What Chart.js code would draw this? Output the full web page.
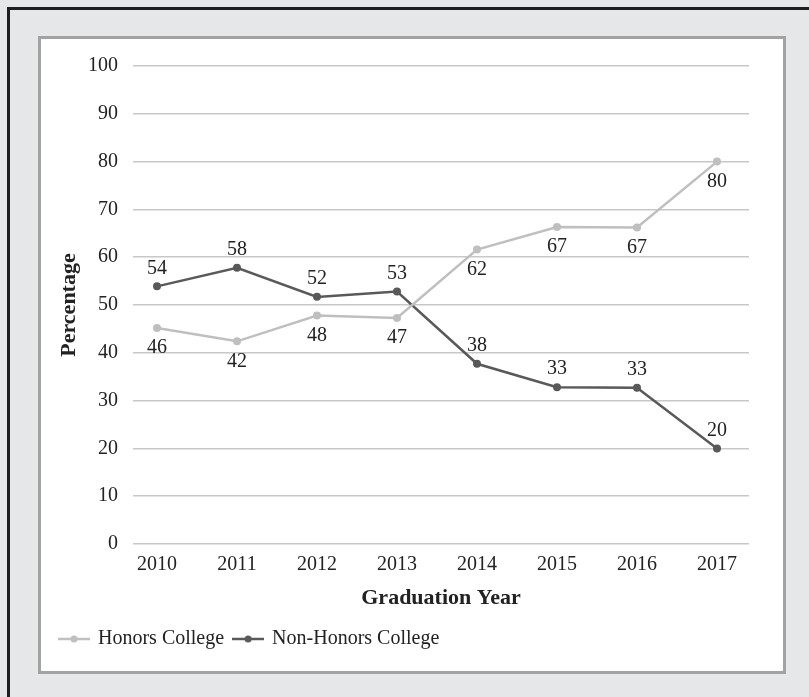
<!DOCTYPE html>
<html>
<head>
<meta charset="utf-8">
<script src="https://cdn.jsdelivr.net/npm/chart.js@4"></script>
<style>
    html, body { margin: 0; padding: 0; }
    body {
        width: 809px;
        height: 697px;
        background: #e6e7e9;
        position: relative;
        overflow: hidden;
    }
    .outer-frame {
        position: absolute;
        left: 7px;
        top: 7px;
        width: 900px;
        height: 800px;
        border-left: 3px solid #1e1e1e;
        border-top: 3px solid #1e1e1e;
    }
    .panel {
        position: absolute;
        left: 38px;
        top: 36px;
        width: 742px;
        height: 632px;
        background: #fff;
        border: 3px solid #a2a2a2;
    }
    .panel canvas { display: block; }
</style>
</head>
<body>
<div class="outer-frame"></div>
<div class="panel">
    <canvas id="chart" width="742" height="632"></canvas>
</div>
<script>
// Chart data
const years = [2010, 2011, 2012, 2013, 2014, 2015, 2016, 2017];
const honorsValues = [45.2, 42.4, 47.8, 47.3, 61.6, 66.3, 66.2, 80.0];
const honorsLabels = ['46', '42', '48', '47', '62', '67', '67', '80'];
const nonHonorsValues = [53.9, 57.8, 51.7, 52.8, 37.7, 32.8, 32.7, 20.0];
const nonHonorsLabels = ['54', '58', '52', '53', '38', '33', '33', '20'];
const yTicks = [0, 10, 20, 30, 40, 50, 60, 70, 80, 90, 100];

const HONORS_COLOR = '#bfbfbf';
const NON_HONORS_COLOR = '#595959';
const TEXT_COLOR = '#222222';
const FONT_FAMILY = '"Liberation Serif", "DejaVu Serif", serif';

/**
 * Small line-with-dot icon used as the legend marker
 */
function makeLegendIcon(color) {
    const c = document.createElement('canvas');
    c.width = 32;
    c.height = 10;
    const g = c.getContext('2d');
    g.strokeStyle = color;
    g.lineWidth = 2.5;
    g.beginPath();
    g.moveTo(0, 5);
    g.lineTo(32, 5);
    g.stroke();
    g.fillStyle = color;
    g.beginPath();
    g.arc(16, 5, 3.5, 0, Math.PI * 2);
    g.fill();
    return c;
}

const legendIcons = [makeLegendIcon(HONORS_COLOR), makeLegendIcon(NON_HONORS_COLOR)];

// Draws the value text above / below each point
const pointLabels = {
    id: 'pointLabels',
    afterDatasetsDraw(chart) {
        const ctx = chart.ctx;
        ctx.save();
        ctx.font = '20px ' + FONT_FAMILY;
        ctx.fillStyle = TEXT_COLOR;
        ctx.textAlign = 'center';
        ctx.textBaseline = 'middle';
        chart.data.datasets.forEach((ds, i) => {
            const meta = chart.getDatasetMeta(i);
            meta.data.forEach((pt, j) => {
                ctx.fillText(ds.valueLabels[j], pt.x, pt.y + ds.labelOffset);
            });
        });
        ctx.restore();
    }
};

const toPoints = values => years.map((year, i) => ({ x: year, y: values[i] }));

new Chart(document.getElementById('chart'), {
    type: 'line',
    data: {
        datasets: [{
            label: 'Honors College',
            data: toPoints(honorsValues),
            valueLabels: honorsLabels,
            labelOffset: 20,
            borderColor: HONORS_COLOR,
            backgroundColor: HONORS_COLOR,
            borderWidth: 2.5,
            pointRadius: 4,
            pointBackgroundColor: HONORS_COLOR,
            pointBorderWidth: 0,
            tension: 0
        }, {
            label: 'Non-Honors College',
            data: toPoints(nonHonorsValues),
            valueLabels: nonHonorsLabels,
            labelOffset: -18,
            borderColor: NON_HONORS_COLOR,
            backgroundColor: NON_HONORS_COLOR,
            borderWidth: 2.5,
            pointRadius: 4,
            pointBackgroundColor: NON_HONORS_COLOR,
            pointBorderWidth: 0,
            tension: 0
        }]
    },
    options: {
        responsive: false,
        animation: false,
        layout: {
            padding: { left: 9, right: 34, top: 26, bottom: 12 }
        },
        plugins: {
            tooltip: { enabled: false },
            legend: {
                display: true,
                position: 'bottom',
                align: 'start',
                labels: {
                    usePointStyle: true,
                    pointStyleWidth: 28,
                    padding: 10,
                    color: TEXT_COLOR,
                    font: { family: FONT_FAMILY, size: 20 },
                    generateLabels: function(chart) {
                        const items = Chart.defaults.plugins.legend.labels.generateLabels(chart);
                        return items.map((item, i) => Object.assign(item, { pointStyle: legendIcons[i] }));
                    }
                }
            }
        },
        scales: {
            x: {
                type: 'linear',
                min: 2009.7,
                max: 2017.4,
                afterBuildTicks: function(axis) {
                    axis.ticks = years.map(v => ({ value: v }));
                },
                afterFit: function(scale) {
                    scale.height = 75;
                },
                grid: { display: false, drawTicks: false },
                border: { display: false },
                ticks: {
                    autoSkip: false,
                    maxRotation: 0,
                    padding: 9,
                    color: TEXT_COLOR,
                    font: { family: FONT_FAMILY, size: 20 },
                    callback: function(value) {
                        return String(value);
                    }
                },
                title: {
                    display: true,
                    text: 'Graduation Year',
                    color: TEXT_COLOR,
                    font: { family: FONT_FAMILY, size: 22, weight: 'bold' },
                    padding: { top: 0, bottom: 7 }
                }
            },
            y: {
                min: 0,
                max: 100,
                afterBuildTicks: function(axis) {
                    axis.ticks = yTicks.map(v => ({ value: v }));
                },
                afterFit: function(scale) {
                    scale.width = 83;
                },
                grid: {
                    color: '#c8c8c8',
                    lineWidth: 1.5,
                    drawTicks: false
                },
                border: { display: false },
                ticks: {
                    padding: 15,
                    color: TEXT_COLOR,
                    font: { family: FONT_FAMILY, size: 20 }
                },
                title: {
                    display: true,
                    text: 'Percentage',
                    color: TEXT_COLOR,
                    font: { family: FONT_FAMILY, size: 22, weight: 'bold' },
                    padding: { top: 6, bottom: 0 }
                }
            }
        }
    },
    plugins: [pointLabels]
});
</script>
</body>
</html>
